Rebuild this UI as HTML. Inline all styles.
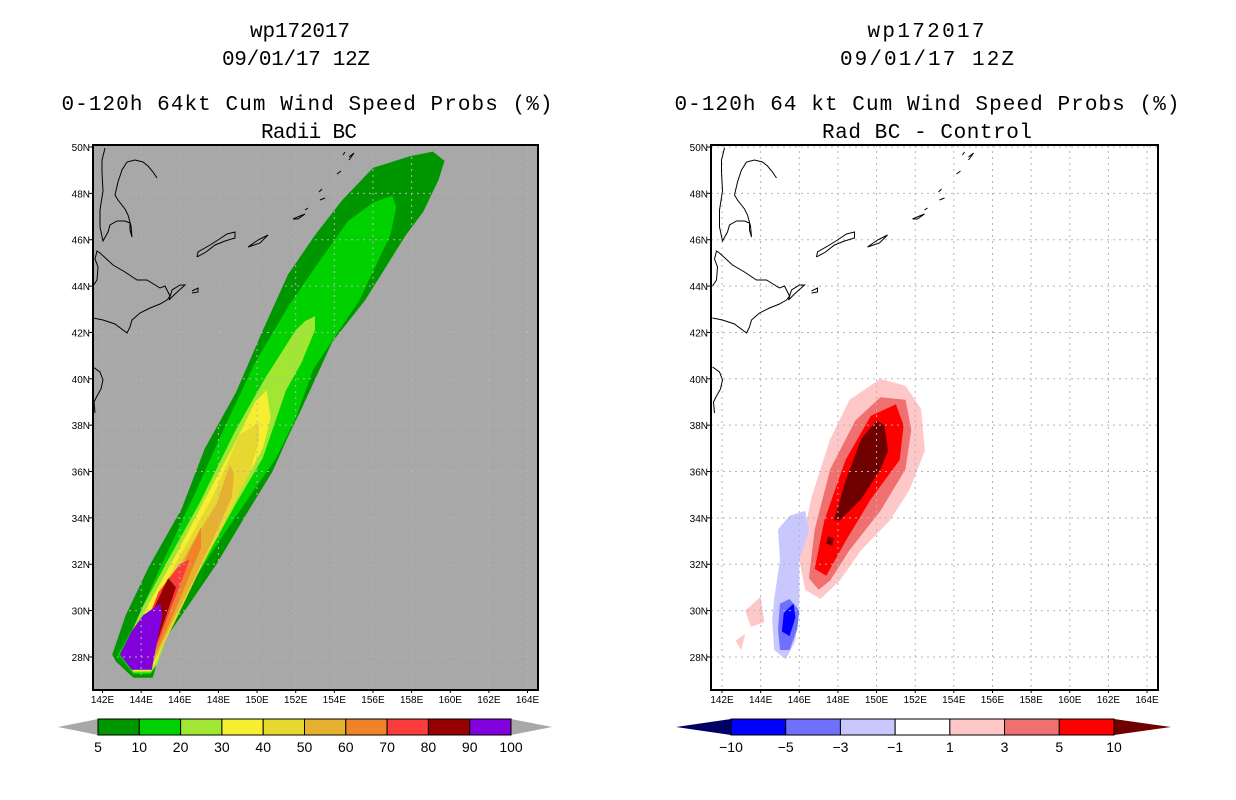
<!DOCTYPE html>
<html><head><meta charset="utf-8"><style>
html,body{margin:0;padding:0;background:#fff}
svg{display:block}
.t{font-family:"Liberation Mono",monospace;font-size:21px;fill:#000}
.tk{font-family:"Liberation Sans",sans-serif;font-size:10px;fill:#000}
.cb{font-family:"Liberation Sans",sans-serif;font-size:14px;fill:#000}
</style></head><body>
<svg id="s" width="1236" height="800" viewBox="0 0 1236 800" xmlns="http://www.w3.org/2000/svg">
<g>
<text class="t" x="300" y="37" text-anchor="middle" textLength="100">wp172017</text>
<text class="t" x="296" y="65" text-anchor="middle" textLength="148">09/01/17 12Z</text>
<text class="t" x="307" y="110" text-anchor="middle" textLength="491">0-120h 64kt Cum Wind Speed Probs (%)</text>
<text class="t" x="309" y="138" text-anchor="middle" textLength="96">Radii BC</text>
</g>
<g>
<text class="t" x="926" y="37" text-anchor="middle" textLength="117">wp172017</text>
<text class="t" x="927" y="65" text-anchor="middle" textLength="174">09/01/17 12Z</text>
<text class="t" x="927" y="110" text-anchor="middle" textLength="505">0-120h 64 kt Cum Wind Speed Probs (%)</text>
<text class="t" x="927" y="138" text-anchor="middle" textLength="210">Rad BC - Control</text>
</g>
<g id="maps"></g>
</svg>
<script>
// ---- data ----
const lonTicks = [142,144,146,148,150,152,154,156,158,160,162,164];
const latTicks = [28,30,32,34,36,38,40,42,44,46,48,50];
const probLevels = [5,10,20,30,40,50,60,70,80,90,100];
const probColors = ["#009600","#00d200","#a0e632","#f8ee30","#e6d830","#e6b030","#f08228","#fa3c3c","#960000","#8200dc"];
const diffLevels = [-10,-5,-3,-1,1,3,5,10];
const diffColors = ["#0000ff","#7070ff","#c8c8ff","#ffffff","#ffc8c8","#f07070","#ff0000","#6e0000"];
// probability contour polygons [lon,lat], one per level (index into probColors)
const probP5 = [[142.5,28.1],[143.2,29.8],[144.4,31.9],[146.1,34.4],[147.3,37.0],[148.9,39.4],[150.3,42.1],[151.6,44.5],[153.0,46.2],[154.4,47.7],[156.0,49.1],[157.9,49.6],[159.1,49.8],[159.7,49.4],[159.4,48.6],[158.6,47.2],[157.7,46.2],[155.6,43.4],[153.9,41.6],[152.3,38.7],[151.6,37.5],[150.8,36.0],[149.4,34.1],[147.9,32.0],[146.1,29.8],[145.1,28.6],[144.6,27.1],[143.6,27.1],[142.7,27.8]];
const probP10 = [[142.8,28.1],[143.6,29.3],[144.9,31.7],[146.7,34.9],[148.2,37.7],[149.9,40.7],[151.6,43.1],[153.0,44.8],[154.7,46.8],[156.0,47.6],[157.0,47.9],[157.2,47.4],[156.9,46.2],[156.1,44.8],[155.3,43.4],[154.1,41.9],[152.9,40.4],[152.0,38.3],[151.0,36.6],[149.6,34.9],[148.2,33.2],[146.5,31.0],[145.3,29.0],[144.9,27.9],[144.5,27.25],[143.6,27.25],[142.9,28.0]];
const probP20 = [[143.0,28.1],[144.1,30.2],[145.4,32.2],[147.0,34.6],[148.9,37.8],[150.4,40.0],[152.0,42.1],[152.5,42.5],[153.0,42.7],[153.0,42.1],[152.3,40.7],[151.5,39.5],[151.0,38.3],[150.3,36.6],[148.9,34.6],[147.5,32.5],[146.1,30.5],[145.3,28.8],[144.85,27.7],[144.5,27.33],[143.6,27.33],[143.1,27.9]];
const probP30 = [[143.2,28.1],[144.4,30.3],[145.8,32.4],[147.3,34.8],[148.9,37.3],[149.9,39.0],[150.5,39.5],[150.7,38.3],[150.3,37.0],[149.2,35.3],[147.9,33.2],[146.5,31.2],[145.5,29.3],[144.8,27.8],[144.45,27.4],[143.65,27.4],[143.25,27.95]];
const probP40 = [[143.35,28.1],[144.6,30.2],[146.1,32.5],[147.7,34.9],[149.1,37.6],[150.1,38.1],[150.1,37.3],[149.6,35.9],[148.4,33.9],[147.0,31.7],[145.8,29.6],[144.75,27.85],[144.4,27.45],[143.7,27.45],[143.4,28.0]];
const probP50 = [[143.45,28.1],[144.9,30.3],[146.7,33.0],[147.9,34.6],[148.6,36.3],[148.8,35.9],[148.7,34.9],[147.9,33.4],[146.7,31.3],[145.6,29.5],[144.7,27.9],[144.35,27.5],[143.75,27.5],[143.5,28.0]];
const probP60 = [[143.55,28.1],[145.1,30.3],[146.3,32.2],[147.1,33.6],[147.1,32.7],[146.5,31.5],[145.6,29.7],[144.65,27.95],[144.3,27.55],[143.8,27.55],[143.6,28.0]];
const probP70 = [[143.65,28.1],[144.9,30.8],[146.0,32.0],[146.5,32.2],[146.1,31.3],[145.4,29.8],[144.6,28.0],[144.25,27.6],[143.85,27.6],[143.7,28.0]];
const probP80 = [[143.75,28.1],[144.6,30.0],[145.4,31.4],[145.8,31.0],[145.3,29.8],[144.55,28.0],[144.2,27.65],[143.9,27.65]];
const probP90 = [[142.9,28.1],[143.5,29.1],[144.1,29.8],[145.0,30.3],[145.1,29.8],[144.8,28.6],[144.55,27.45],[143.5,27.45]];
const probPolys = [probP5,probP10,probP20,probP30,probP40,probP50,probP60,probP70,probP80,probP90];
// difference polygons [lon,lat] with color index into diffColors
const diffPinkOuter = [[146.3,30.9],[146.0,32.2],[146.6,34.8],[147.6,37.4],[148.6,39.1],[150.2,40.0],[151.5,39.7],[152.3,38.7],[152.5,36.9],[151.7,35.2],[150.7,33.9],[149.2,32.6],[148.1,31.3],[147.1,30.5]];
const diffRed3 = [[146.5,31.4],[146.8,33.5],[147.6,36.1],[148.9,38.2],[150.2,39.2],[151.5,39.1],[151.8,37.8],[151.5,36.1],[150.2,34.3],[148.6,32.6],[147.6,31.3],[147.0,30.9]];
const diffRed5 = [[146.8,31.8],[147.3,33.9],[148.4,36.5],[149.7,38.4],[151.0,38.9],[151.4,38.0],[151.2,36.5],[149.7,34.8],[148.4,33.0],[147.4,31.5]];
const diffRed10 = [[147.8,33.9],[148.4,35.6],[149.2,37.4],[150.0,38.2],[150.4,38.0],[150.6,36.9],[150.2,36.1],[149.2,34.8],[148.1,33.9]];
const diffRedDot = [[147.5,33.2],[147.8,33.1],[147.7,32.8],[147.4,32.9]];
const diffBlue1 = [[144.7,30.5],[145.0,32.2],[144.9,33.5],[145.5,34.1],[146.3,34.3],[146.5,33.5],[146.0,32.2],[146.0,30.5],[145.8,28.7],[145.3,27.9],[144.7,28.3],[144.6,29.6]];
const diffBlue3 = [[145.0,30.3],[145.5,30.5],[146.0,30.0],[145.9,29.2],[145.5,28.3],[145.0,28.3],[144.9,29.2]];
const diffBlue5 = [[145.2,29.9],[145.7,30.3],[145.8,29.7],[145.5,28.9],[145.1,29.1]];
const diffPinkA = [[143.2,30.0],[144.0,30.6],[144.2,29.5],[143.5,29.3]];
const diffPinkB = [[142.7,28.7],[143.2,29.0],[143.0,28.3]];
const diffPolys = [diffPinkOuter,diffRed3,diffRed5,diffRed10,diffRedDot,diffBlue1,diffBlue3,diffBlue5,diffPinkA,diffPinkB];
const diffPolyColor = [4,5,6,7,7,2,1,0,4,4];
// coastlines in left-map pixel coords (shifted for right map)
const coastLines = [
 [[93,318],[103,320],[115,324],[127,333],[130,327],[132,320],[140,313],[150,308],[160,304],[167,300],[170,296],[168,292],[165,286],[160,288],[147,280],[137,280],[125,272],[113,265],[100,253],[97,251],[95,259],[98,267],[97,280],[93,286]],
 [[105,148],[102,160],[102,172],[103,191],[100,210],[100,227],[103,241],[108,232],[110,225],[117,221],[125,221],[130,223],[130,230],[132,237],[131,226],[128,215],[125,209],[118,200],[115,195],[118,182],[122,170],[127,162],[135,160],[143,162],[148,166],[153,172],[157,178]],
 [[93,367],[100,372],[103,380],[101,389],[97,396],[94,402],[95,413]],
 [[169,300],[172,290],[180,285],[185,285],[175,294],[169,300]],
 [[197,257],[206,252],[215,245],[220,243],[225,241],[235,238],[235,232],[227,234],[218,240],[210,245],[198,252],[197,257]],
 [[192,291],[198,288],[198,292],[192,293]],
 [[248,247],[258,240],[268,235],[260,243],[248,247]],
 [[293,219],[300,216],[305,214],[298,219],[293,219]],
 [[305,210],[308,208]],[[319,192],[322,189]],[[320,200],[325,198]],
 [[337,174],[341,171]],[[343,155],[345,152]],[[349,160],[354,153],[349,157]]
];
// ---- projection / drawing ----
const NS="http://www.w3.org/2000/svg";
const maps=document.getElementById('maps');
const FT=145, FB=690, PXLON=19.32, PXLAT=23.18;
function mk(tag,attrs,parent){const e=document.createElementNS(NS,tag);for(const k in attrs)e.setAttribute(k,attrs[k]);(parent||maps).appendChild(e);return e;}
function makeMap(x142, frameL, frameR, bg, polys, colorOf, side){
  const X=lon=>x142+(lon-142)*PXLON;
  const Y=lat=>147+(50-lat)*PXLAT;
  const g=mk('g',{});
  
  
  const clipId='clip'+side;
  const cp=mk('clipPath',{id:clipId},g);
  mk('rect',{x:frameL,y:FT,width:frameR-frameL,height:FB-FT},cp);
  const bgr=mk('rect',{x:frameL,y:FT,width:frameR-frameL,height:FB-FT,fill:bg},g);
  
  
  const inner=mk('g',{'clip-path':'url(#'+clipId+')'},g);
  polys.forEach((p,i)=>{
    const pl=mk('polygon',{points:p.map(q=>X(q[0]).toFixed(1)+','+Y(q[1]).toFixed(1)).join(' '),fill:colorOf(i)},inner);
    
    
  });
  lonTicks.forEach(l=>{mk('line',{x1:X(l),x2:X(l),y1:FT,y2:FB,stroke:'#b4b4b4','stroke-width':1,'stroke-dasharray':'2,4'},inner);});
  latTicks.forEach(l=>{mk('line',{x1:frameL,x2:frameR,y1:Y(l),y2:Y(l),stroke:'#b4b4b4','stroke-width':1,'stroke-dasharray':'2,4'},inner);});
  const dx=x142-102.5;
  coastLines.forEach(c=>{
    const pl=mk('polyline',{points:c.map(q=>(q[0]+dx)+','+q[1]).join(' '),fill:'none',stroke:'#000','stroke-width':1},inner);
    
    
  });
  const fr=mk('rect',{x:frameL,y:FT,width:frameR-frameL,height:FB-FT,fill:'none',stroke:'#000','stroke-width':2},g);
  
  
  lonTicks.forEach(l=>{
    mk('line',{x1:X(l),x2:X(l),y1:FB,y2:FB+3,stroke:'#000'},g);
    const t=mk('text',{x:X(l),y:FB+13,'text-anchor':'middle','class':'tk'},g);
    t.textContent=l+'E';
    
    
  });
  latTicks.forEach(l=>{
    mk('line',{x1:frameL-4,x2:frameL,y1:Y(l),y2:Y(l),stroke:'#000'},g);
    const t=mk('text',{x:frameL-3,y:Y(l)+4,'text-anchor':'end','class':'tk'},g);
    t.textContent=l+'N';
    
    
  });
}
makeMap(102.5,93,538,'#a8a8a8',probPolys,i=>probColors[i],'left');
makeMap(722,711,1158,'#ffffff',diffPolys,i=>diffColors[diffPolyColor[i]],'right');
function colorbar(x0,x1,tipL,tipR,colors,levels,cl,cr,side){
  const g=mk('g',{});
  
  
  const y0=719,y1=735,ym=727,w=(x1-x0)/colors.length;
  mk('polygon',{points:`${tipL},${ym} ${x0},${y0} ${x0},${y1}`,fill:cl},g);
  mk('polygon',{points:`${tipR},${ym} ${x1},${y0} ${x1},${y1}`,fill:cr},g);
  colors.forEach((c,i)=>{
    const r=mk('rect',{x:x0+i*w,y:y0,width:w,height:y1-y0,fill:c,stroke:'#000','stroke-width':1},g);
    
    
  });
  levels.forEach((v,i)=>{
    const t=mk('text',{x:x0+i*w,y:752,'text-anchor':'middle','class':'cb'},g);
    t.textContent=(v<0?'\u2212'+(-v):v);
    
    
  });
}
colorbar(98,511,58,552,probColors,probLevels,'#a8a8a8','#a8a8a8','left');
colorbar(731,1114,676,1171,diffColors.slice(0,7),diffLevels,'#000064','#6e0000','right');
</script>
</body></html>
